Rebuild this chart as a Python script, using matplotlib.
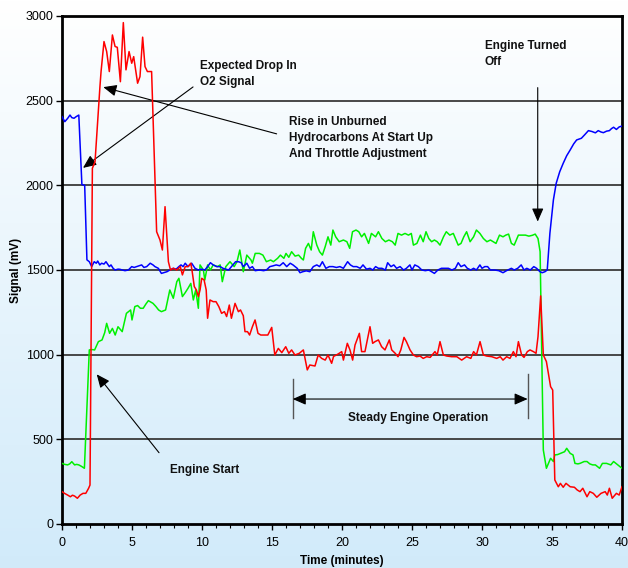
import matplotlib
matplotlib.use('Agg')
import matplotlib.pyplot as plt
import numpy as np

plt.rcParams['font.family'] = ['Liberation Sans', 'DejaVu Sans']

# blue trace (time in minutes, signal in mV)
blue_t = [0.0, 0.2, 0.4, 0.57, 0.7, 0.86, 1.0, 1.2, 1.42, 1.62, 1.78, 1.95, 2.12, 2.3, 2.45, 2.55, 2.7, 2.83,
          3.0, 3.14, 3.38, 3.5, 3.65, 3.79, 4.0, 4.14, 4.3, 4.5, 4.74, 4.98, 5.15, 5.33, 5.5, 5.69, 5.85, 6.05,
          6.3, 6.5, 6.64, 6.88, 7.1, 7.3, 7.5, 7.7, 7.95, 8.15, 8.35, 8.5, 8.65, 8.8, 9.0, 9.26, 9.5, 9.74, 9.95,
          10.2, 10.4, 10.6, 10.8, 11.05, 11.3, 11.5, 11.7, 11.9, 12.2, 12.4, 12.6, 12.8, 12.95, 13.2, 13.4, 13.6,
          13.8, 14.1, 14.4, 14.6, 14.85, 15.05, 15.3, 15.55, 15.8, 16.05, 16.3, 16.5, 16.8, 17.0, 17.2, 17.45,
          17.7, 17.95, 18.2, 18.4, 18.6, 18.85, 19.1, 19.35, 19.6, 19.85, 20.1, 20.4, 20.6, 20.8, 21.05, 21.3,
          21.5, 21.75, 22.0, 22.2, 22.4, 22.6, 22.85, 23.1, 23.26, 23.5, 23.7, 23.9, 24.15, 24.4, 24.6, 24.85,
          25.0, 25.2, 25.45, 25.7, 25.95, 26.2, 26.4, 26.6, 26.85, 27.1, 27.3, 27.6, 27.85, 28.1, 28.3, 28.5,
          28.75, 28.95, 29.2, 29.4, 29.6, 29.85, 30.0, 30.2, 30.4, 30.6, 30.9, 31.2, 31.5, 31.75, 32.1, 32.3,
          32.55, 32.8, 33.0, 33.2, 33.45, 33.7, 33.9, 34.14, 34.3, 34.5, 34.66, 34.85, 35.1, 35.3, 35.55, 35.8,
          36.05, 36.3, 36.55, 36.76, 37.1, 37.35, 37.6, 37.85, 38.1, 38.3, 38.5, 38.67, 38.9, 39.1, 39.25, 39.4,
          39.6, 39.8, 40.0]
blue_v = [2406, 2376, 2395, 2415, 2400, 2396, 2405, 2415, 2005, 2000, 1560, 1549, 1520, 1549, 1540, 1553, 1530,
          1540, 1535, 1549, 1520, 1530, 1510, 1500, 1505, 1504, 1500, 1496, 1500, 1520, 1515, 1520, 1525, 1530,
          1515, 1520, 1540, 1530, 1520, 1510, 1480, 1485, 1490, 1500, 1510, 1505, 1520, 1530, 1520, 1540, 1520,
          1540, 1510, 1500, 1505, 1500, 1520, 1543, 1530, 1520, 1520, 1510, 1505, 1500, 1530, 1549, 1549, 1543,
          1520, 1540, 1510, 1520, 1496, 1500, 1496, 1500, 1520, 1524, 1530, 1525, 1543, 1520, 1540, 1530, 1510,
          1484, 1490, 1495, 1490, 1520, 1530, 1520, 1549, 1510, 1520, 1520, 1515, 1520, 1510, 1549, 1530, 1520,
          1520, 1510, 1530, 1505, 1510, 1500, 1520, 1510, 1510, 1500, 1543, 1520, 1530, 1510, 1520, 1500, 1510,
          1530, 1500, 1530, 1520, 1500, 1496, 1500, 1490, 1480, 1500, 1510, 1510, 1510, 1500, 1510, 1543, 1520,
          1530, 1510, 1500, 1510, 1500, 1530, 1510, 1520, 1520, 1500, 1500, 1496, 1484, 1496, 1510, 1500, 1510,
          1530, 1500, 1510, 1500, 1520, 1510, 1490, 1484, 1490, 1500, 1717, 1914, 2012, 2080, 2130, 2175, 2209,
          2245, 2268, 2278, 2300, 2323, 2318, 2310, 2323, 2315, 2311, 2320, 2323, 2335, 2343, 2330, 2345, 2350]

# green trace
green_t = [0.0, 0.2, 0.4, 0.55, 0.7, 0.9, 1.05, 1.2, 1.4, 1.6, 1.76, 1.95, 2.15, 2.33, 2.6, 2.86, 3.05, 3.19,
           3.4, 3.6, 3.8, 4.0, 4.15, 4.3, 4.6, 4.9, 5.0, 5.2, 5.4, 5.6, 5.8, 6.0, 6.17, 6.35, 6.5, 6.7, 6.9, 7.1,
           7.4, 7.7, 7.95, 8.2, 8.35, 8.6, 8.8, 9.0, 9.2, 9.38, 9.55, 9.74, 9.86, 10.1, 10.2, 10.4, 10.6, 10.8,
           11.1, 11.3, 11.45, 11.7, 12.0, 12.3, 12.5, 12.7, 12.95, 13.2, 13.5, 13.6, 13.8, 14.1, 14.35, 14.6, 14.9,
           15.1, 15.4, 15.6, 15.85, 16.0, 16.2, 16.4, 16.65, 16.9, 17.1, 17.24, 17.4, 17.6, 17.8, 17.95, 18.2, 18.4,
           18.6, 18.8, 19.0, 19.2, 19.35, 19.55, 19.8, 20.1, 20.35, 20.55, 20.75, 21.0, 21.2, 21.4, 21.6, 21.9,
           22.1, 22.4, 22.6, 22.85, 23.1, 23.35, 23.6, 23.8, 24.0, 24.25, 24.5, 24.75, 24.95, 25.1, 25.35, 25.6,
           25.8, 26.0, 26.2, 26.4, 26.6, 26.8, 27.0, 27.25, 27.45, 27.7, 27.95, 28.1, 28.3, 28.5, 28.7, 28.9, 29.15,
           29.4, 29.6, 29.85, 30.1, 30.35, 30.6, 30.8, 31.0, 31.25, 31.5, 31.7, 31.9, 32.1, 32.3, 32.6, 32.85,
           33.1, 33.35, 33.6, 33.8, 34.0, 34.15, 34.38, 34.6, 34.9, 35.1, 35.2, 35.4, 35.6, 35.9, 36.05, 36.3,
           36.5, 36.64, 36.85, 37.0, 37.3, 37.5, 37.7, 37.9, 38.1, 38.4, 38.6, 38.9, 39.2, 39.4, 39.7, 40.0]
green_v = [358, 352, 349, 355, 368, 349, 352, 349, 340, 329, 654, 1028, 1030, 1028, 1077, 1087, 1130, 1185,
           1126, 1155, 1116, 1165, 1150, 1136, 1244, 1264, 1205, 1284, 1290, 1274, 1274, 1300, 1319, 1310, 1303,
           1285, 1264, 1254, 1264, 1382, 1333, 1431, 1451, 1343, 1366, 1392, 1421, 1323, 1382, 1274, 1530, 1500,
           1441, 1530, 1500, 1530, 1520, 1530, 1431, 1520, 1549, 1520, 1549, 1618, 1490, 1588, 1559, 1540, 1598,
           1598, 1588, 1549, 1559, 1549, 1569, 1588, 1569, 1598, 1575, 1608, 1582, 1588, 1569, 1559, 1628, 1657,
           1618, 1726, 1647, 1608, 1588, 1638, 1696, 1647, 1736, 1696, 1667, 1677, 1667, 1628, 1726, 1736, 1726,
           1696, 1716, 1657, 1716, 1696, 1726, 1686, 1667, 1677, 1667, 1647, 1716, 1706, 1716, 1706, 1716, 1647,
           1657, 1706, 1667, 1726, 1686, 1667, 1677, 1667, 1647, 1696, 1726, 1706, 1716, 1686, 1647, 1657, 1696,
           1726, 1667, 1696, 1736, 1716, 1686, 1667, 1677, 1667, 1657, 1706, 1696, 1706, 1712, 1657, 1647, 1706,
           1706, 1706, 1700, 1705, 1712, 1686, 1608, 437, 329, 388, 369, 408, 410, 417, 427, 447, 417, 408, 358,
           355, 358, 369, 369, 355, 349, 349, 329, 358, 358, 349, 369, 349, 329]

# red trace
red_t = [0.0, 0.2, 0.4, 0.6, 0.75, 0.9, 1.1, 1.3, 1.5, 1.7, 1.9, 2.0, 2.17, 2.36, 2.55, 2.71, 2.79, 3.0, 3.19,
         3.38, 3.6, 3.79, 3.95, 4.17, 4.38, 4.57, 4.79, 4.98, 5.12, 5.26, 5.4, 5.57, 5.76, 5.93, 6.1, 6.4, 6.76,
         7.0, 7.17, 7.36, 7.6, 7.75, 7.95, 8.2, 8.45, 8.6, 8.8, 9.0, 9.2, 9.3, 9.45, 9.6, 9.74, 9.86, 9.98,
         10.15, 10.3, 10.4, 10.57, 10.8, 11.0, 11.2, 11.4, 11.6, 11.76, 11.95, 12.1, 12.36, 12.6, 12.75, 12.95,
         13.07, 13.25, 13.4, 13.6, 13.79, 14.0, 14.2, 14.45, 14.7, 14.98, 15.2, 15.45, 15.7, 15.98, 16.2, 16.4,
         16.64, 16.95, 17.24, 17.52, 17.7, 18.07, 18.3, 18.55, 18.8, 19.0, 19.26, 19.4, 19.6, 19.8, 19.98, 20.1,
         20.38, 20.57, 20.76, 20.93, 21.24, 21.4, 21.64, 22.0, 22.19, 22.36, 22.6, 22.83, 23.07, 23.38, 23.55,
         23.8, 24.0, 24.2, 24.43, 24.6, 24.86, 25.1, 25.33, 25.57, 25.8, 26.05, 26.3, 26.64, 26.8, 27.0, 27.24,
         27.48, 27.83, 28.2, 28.55, 28.9, 29.2, 29.4, 29.6, 29.86, 30.1, 30.33, 30.7, 31.05, 31.3, 31.5, 31.76,
         32.0, 32.24, 32.43, 32.6, 32.83, 33.0, 33.24, 33.43, 33.67, 33.86, 34.0, 34.19, 34.38, 34.6, 34.9,
         35.05, 35.2, 35.45, 35.6, 35.8, 36.0, 36.3, 36.6, 36.8, 37.0, 37.2, 37.5, 37.7, 37.95, 38.2, 38.5,
         38.8, 38.95, 39.1, 39.3, 39.6, 39.8, 40.0]
red_v = [191, 180, 171, 161, 170, 165, 152, 171, 181, 181, 211, 230, 2101, 2140, 2386, 2583, 2672, 2849, 2790,
         2672, 2888, 2820, 2815, 2612, 2961, 2682, 2790, 2721, 2760, 2682, 2603, 2642, 2875, 2701, 2672, 2672,
         1726, 1677, 1618, 1874, 1549, 1500, 1510, 1500, 1520, 1471, 1520, 1520, 1540, 1490, 1402, 1382, 1343,
         1382, 1451, 1441, 1382, 1215, 1323, 1313, 1313, 1284, 1244, 1254, 1225, 1293, 1215, 1303, 1254, 1264,
         1230, 1136, 1136, 1116, 1165, 1205, 1126, 1116, 1116, 1116, 1161, 998, 1037, 1012, 1047, 1008, 1028,
         998, 1008, 1028, 910, 939, 933, 998, 978, 968, 998, 949, 990, 998, 1008, 1018, 968, 1067, 1028, 968,
         1057, 1126, 1018, 1018, 1165, 1067, 1077, 1087, 1047, 1028, 1087, 1028, 1008, 988, 1028, 1102, 1077,
         1028, 998, 988, 992, 978, 988, 984, 1018, 998, 1077, 998, 992, 988, 988, 968, 988, 978, 1018, 998, 1077,
         998, 992, 988, 978, 988, 968, 988, 978, 1018, 988, 1077, 998, 984, 1018, 1028, 1018, 1008, 1106, 1347,
         998, 959, 811, 791, 260, 220, 240, 217, 240, 220, 217, 201, 191, 211, 161, 191, 181, 158, 181, 191, 171,
         211, 152, 181, 171, 220]

y_ticks = [0, 500, 1000, 1500, 2000, 2500, 3000]
x_ticks = [0, 5, 10, 15, 20, 25, 30, 35, 40]

fig = plt.figure(figsize=(6.28, 5.68), dpi=100)

# white-to-light-blue backdrop
bg = fig.add_axes([0, 0, 1, 1], zorder=-10)
grad = np.linspace(0, 1, 256).reshape(-1, 1)
top = np.array([1.0, 1.0, 1.0])
bottom = np.array([0.82, 0.92, 0.98])
img = top + (bottom - top) * grad[:, :, None]
bg.imshow(img, aspect='auto', extent=[0, 1, 0, 1])
bg.axis('off')

ax = fig.add_axes([62 / 628, 44 / 568, 560 / 628, 508 / 568])
ax.set_facecolor('none')

for yv in y_ticks[1:-1]:
    ax.axhline(yv, color='#3a3a3a', lw=1.3, zorder=1)

ax.plot(green_t, green_v, color='#00f000', lw=1.1, zorder=3)
ax.plot(blue_t, blue_v, color='#0000ff', lw=1.1, zorder=3)
ax.plot(red_t, red_v, color='#ff0000', lw=1.1, zorder=4)

ax.set_xlim(0, 40)
ax.set_ylim(0, 3000)
ax.set_xticks(x_ticks)
ax.set_xticks(range(0, 41), minor=True)
ax.set_yticks(y_ticks)
ax.tick_params(axis='both', labelsize=9, length=4, width=1, color='black')
ax.tick_params(axis='x', pad=5)
ax.tick_params(axis='y', pad=2)
ax.tick_params(axis='x', which='minor', length=3, width=0.8)
for s in ax.spines.values():
    s.set_linewidth(2)
    s.set_color('black')

ax.set_ylabel('Signal (mV)', fontsize=8.5, fontweight='bold', labelpad=3)
ax.set_xlabel('Time (minutes)', fontsize=8.5, fontweight='bold', labelpad=5)

akw = dict(arrowstyle='-|>,head_length=0.8,head_width=0.35', color='black', lw=0.8,
           shrinkA=0, shrinkB=0, mutation_scale=10)
tkw = dict(fontsize=8.5, fontweight='bold', color='#111111', linespacing=1.45)

ax.annotate('', xy=(1.5, 2103), xytext=(9.36, 2581), arrowprops=akw)
ax.text(9.86, 2660, 'Expected Drop In\nO2 Signal', ha='left', va='center', **tkw)

ax.annotate('', xy=(2.95, 2580), xytext=(15.33, 2304), arrowprops=akw)
ax.text(16.19, 2282, 'Rise in Unburned\nHydrocarbons At Start Up\nAnd Throttle Adjustment',
        ha='left', va='center', **tkw)

ax.annotate('', xy=(33.98, 1786), xytext=(33.98, 2577), arrowprops=akw)
ax.text(30.21, 2773, 'Engine Turned\nOff', ha='left', va='center', **tkw)

ax.annotate('', xy=(2.48, 884), xytext=(6.93, 421), arrowprops=akw)
ax.text(7.71, 319, 'Engine Start', ha='left', va='center', **tkw)

ax.annotate('', xy=(16.48, 738), xytext=(33.26, 738),
            arrowprops=dict(akw, arrowstyle='<|-|>,head_length=0.8,head_width=0.35'))
ax.plot([16.48, 16.48], [626, 855], color='#555555', lw=1)
ax.plot([33.26, 33.26], [626, 884], color='#555555', lw=1)
ax.text(25.47, 624, 'Steady Engine Operation', ha='center', va='center', **tkw)

fig.savefig('out.png', dpi=100)
